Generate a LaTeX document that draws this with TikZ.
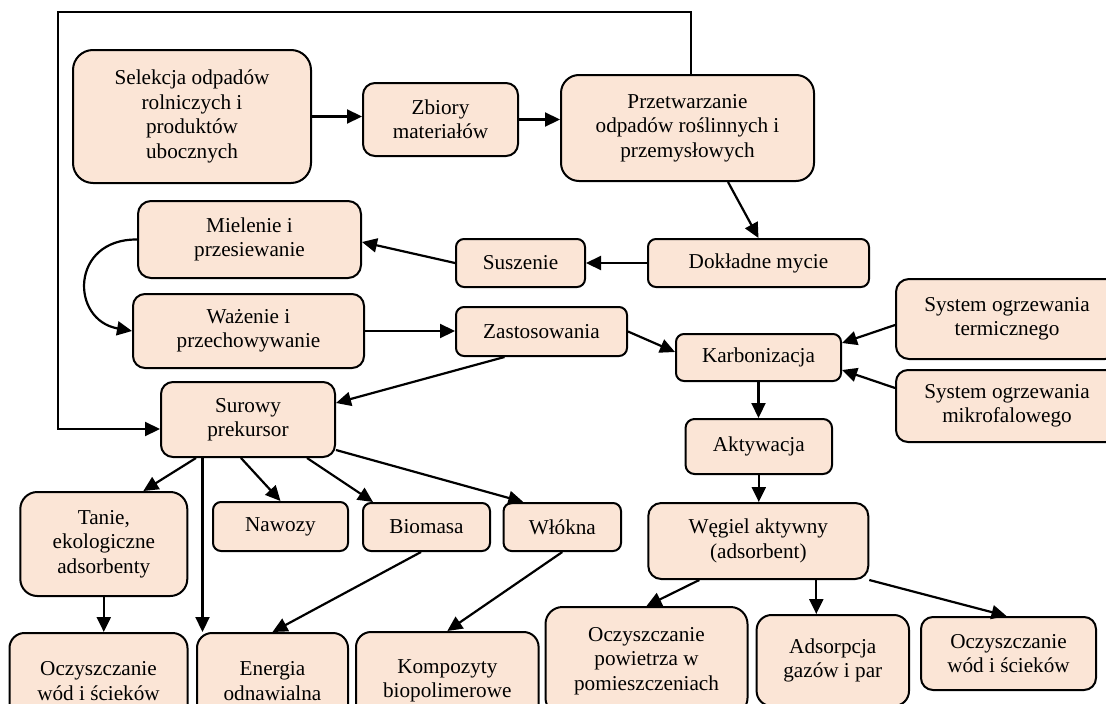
\documentclass[tikz,border=0pt]{standalone}
\usepackage{fontspec}
\setmainfont{Liberation Serif}
\usetikzlibrary{arrows.meta,calc}
\definecolor{boxfill}{HTML}{FBE5D6}
\tikzset{
  bx/.style={draw=black, line width=2pt, fill=boxfill, align=center, inner sep=0pt,
             font=\fontsize{21.2}{24.4}\selectfont},
  arr/.style={line width=2.2pt, -{Triangle[length=15pt,width=14pt]}},
}
\begin{document}
\begin{tikzpicture}[x=1pt,y=-1pt]
\clip (0,0) rectangle (1106,704);
\fill[white] (0,0) rectangle (1106,704);

% boxes
\node[bx, minimum width=238pt, minimum height=133pt, rounded corners=20pt] (sel) at (192,116.5) {Selekcja odpadów\\rolniczych i\\produktów\\ubocznych};
\node[bx, minimum width=155pt, minimum height=73pt, rounded corners=12pt] (zbi) at (440.5,119.5) {Zbiory\\materiałów};
\node[bx, minimum width=253pt, minimum height=106pt, rounded corners=18pt] (prz) at (687.5,128) {Przetwarzanie\\odpadów roślinnych i\\przemysłowych};
\node[bx, minimum width=223pt, minimum height=77pt, rounded corners=13pt] (mie) at (249.5,239.5) {Mielenie i\\przesiewanie};
\node[bx, minimum width=129pt, minimum height=48pt, rounded corners=8pt] (sus) at (520.5,263) {Suszenie};
\node[bx, minimum width=221pt, minimum height=48pt, rounded corners=8pt] (dok) at (758.5,263) {Dokładne mycie};
\node[bx, minimum width=231pt, minimum height=74pt, rounded corners=12pt] (waz) at (248.5,331) {Ważenie i\\przechowywanie};
\node[bx, minimum width=171pt, minimum height=49pt, rounded corners=8pt] (zas) at (541.5,331.5) {Zastosowania};
\node[bx, minimum width=165pt, minimum height=47pt, rounded corners=8pt] (kar) at (758.5,357.5) {Karbonizacja};
\node[bx, minimum width=222pt, minimum height=80pt, rounded corners=13pt] (ter) at (1007,319) {System ogrzewania\\termicznego};
\node[bx, minimum width=222pt, minimum height=72pt, rounded corners=12pt] (mik) at (1007,406) {System ogrzewania\\mikrofalowego};
\node[bx, minimum width=146.5pt, minimum height=55pt, rounded corners=9pt] (akt) at (758.8,446.5) {Aktywacja};
\node[bx, minimum width=220pt, minimum height=76pt, rounded corners=13pt] (weg) at (758.3,541) {Węgiel aktywny\\(adsorbent)};
\node[bx, minimum width=174pt, minimum height=75pt, rounded corners=12pt] (sur) at (248,419.5) {Surowy\\prekursor};
\node[bx, minimum width=167pt, minimum height=104pt, rounded corners=17pt] (tan) at (103.8,544) {Tanie,\\ekologiczne\\adsorbenty};
\node[bx, minimum width=135pt, minimum height=49pt, rounded corners=8pt] (naw) at (280.5,526.5) {Nawozy};
\node[bx, minimum width=127pt, minimum height=48pt, rounded corners=8pt] (bio) at (426.5,527) {Biomasa};
\node[bx, minimum width=117.4pt, minimum height=48pt, rounded corners=8pt] (wlo) at (562.3,527) {Włókna};
\node[bx, minimum width=178pt, minimum height=96pt, rounded corners=15pt] (ocl) at (98.5,681) {Oczyszczanie\\wód i ścieków};
\node[bx, minimum width=151pt, minimum height=96pt, rounded corners=15pt] (ene) at (272.5,681) {Energia\\odnawialna};
\node[bx, minimum width=182.6pt, minimum height=98pt, rounded corners=15pt] (kom) at (447.3,681) {Kompozyty\\biopolimerowe};
\node[bx, minimum width=202pt, minimum height=108pt, rounded corners=17pt] (pow) at (646.5,661) {Oczyszczanie\\powietrza w\\pomieszczeniach};
\node[bx, minimum width=152.4pt, minimum height=91pt, rounded corners=15pt] (ads) at (832.8,660.5) {Adsorpcja\\gazów i par};
\node[bx, minimum width=175pt, minimum height=73pt, rounded corners=12pt] (ocr) at (1008.5,653.5) {Oczyszczanie\\wód i ścieków};

% connectors
\draw[arr] (sel.east) -- (sel.east -| zbi.west);
\draw[arr] (zbi.east) -- (zbi.east -| prz.west);
\draw[arr] ([xshift=40.5pt]prz.south) -- (dok.north);
\draw[arr] (dok.west) -- (sus.east);
\draw[arr] (sus.west) -- ([yshift=-2.5pt]mie.east);
\draw[arr] (mie.west) .. controls (70,239) and (70,320) .. (waz.west);
\draw[arr] (waz.east) -- (waz.east -| zas.west);
\draw[arr] (zas.east) -- ([yshift=5.5pt]kar.west);
\draw[arr] ([xshift=-37pt]zas.south) -- ([yshift=16.5pt]sur.east);
\draw[arr] ([yshift=-6pt]ter.west) -- ([yshift=14.5pt]kar.east);
\draw[arr] ([yshift=18pt]mik.west) -- ([yshift=-12.5pt]kar.east);
\draw[arr] (kar.south) -- (kar.south |- akt.north);
\draw[arr] (akt.south) -- (akt.south |- weg.north);
\draw[arr] ([xshift=-59pt]weg.south) -- (pow.north);
\draw[arr] ([xshift=58pt]weg.south) -- ([xshift=58pt]weg.south |- ads.north);
\draw[arr] (weg.south east) -- ([xshift=-2pt]ocr.north);

\coordinate (fbk) at (58,12);
\draw[arr] ([xshift=3.5pt]prz.north) |- (fbk) |- ([yshift=-9.5pt]sur.west);

\draw[arr] ([xshift=-52pt]sur.south) -- ([xshift=39.5pt]tan.north);
\draw[arr] ([xshift=-45.5pt]sur.south) -- ([xshift=-45.5pt]sur.south |- ene.north);
\draw[arr] ([xshift=-7pt]sur.south) -- (naw.north);
\draw[arr] ([xshift=59pt]sur.south) -- ([xshift=-53.5pt]bio.north);
\draw[arr] ([yshift=8pt]sur.south east) -- ([xshift=-39pt]wlo.north);
\draw[arr] (tan.south) -- (tan.south |- ocl.north);
\draw[arr] ([xshift=-5.5pt]bio.south) -- (ene.north);
\draw[arr] (wlo.south) -- (kom.north);
\end{tikzpicture}
\end{document}
